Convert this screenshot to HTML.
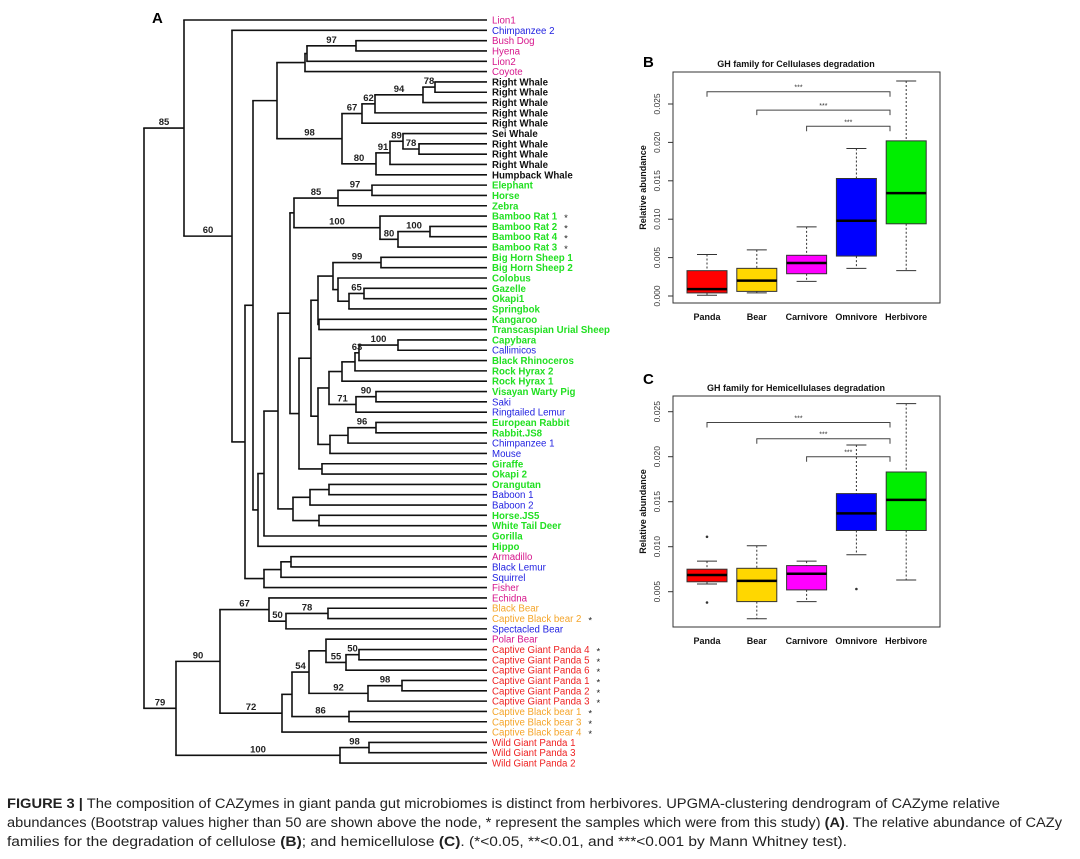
<!DOCTYPE html>
<html><head><meta charset="utf-8"><style>
html,body{margin:0;padding:0;background:#fff;}
svg{display:block;font-family:"Liberation Sans",Arial,sans-serif;}
</style></head><body>
<svg id="fig" width="1080" height="859" viewBox="0 0 1080 859">
<text x="152" y="23" font-size="15" font-weight="bold">A</text>
<text x="643" y="67" font-size="15" font-weight="bold">B</text>
<text x="643" y="384" font-size="15" font-weight="bold">C</text>
<g id="dendro"></g>
<g id="boxB"></g>
<g id="boxC"></g>
<g font-size="13.5" fill="#222">
<text x="7" y="808" textLength="993" lengthAdjust="spacingAndGlyphs"><tspan font-weight="bold">FIGURE 3 |</tspan> The composition of CAZymes in giant panda gut microbiomes is distinct from herbivores. UPGMA-clustering dendrogram of CAZyme relative</text>
<text x="7" y="827" textLength="1055" lengthAdjust="spacingAndGlyphs">abundances (Bootstrap values higher than 50 are shown above the node, * represent the samples which were from this study) <tspan font-weight="bold">(A)</tspan>. The relative abundance of CAZy</text>
<text x="7" y="846" textLength="840" lengthAdjust="spacingAndGlyphs">families for the degradation of cellulose <tspan font-weight="bold">(B)</tspan>; and hemicellulose <tspan font-weight="bold">(C)</tspan>. (*&lt;0.05, **&lt;0.01, and ***&lt;0.001 by Mann Whitney test).</text>
</g>
</svg>
<script>
// ---------- Dendrogram data ----------
const leafNames = ["Lion1","Chimpanzee 2","Bush Dog","Hyena","Lion2","Coyote","Right Whale","Right Whale","Right Whale","Right Whale","Right Whale","Sei Whale","Right Whale","Right Whale","Right Whale","Humpback Whale","Elephant","Horse","Zebra","Bamboo Rat 1","Bamboo Rat 2","Bamboo Rat 4","Bamboo Rat 3","Big Horn Sheep 1","Big Horn Sheep 2","Colobus","Gazelle","Okapi1","Springbok","Kangaroo","Transcaspian Urial Sheep","Capybara","Callimicos","Black Rhinoceros","Rock Hyrax 2","Rock Hyrax 1","Visayan Warty Pig","Saki","Ringtailed Lemur","European Rabbit","Rabbit.JS8","Chimpanzee 1","Mouse","Giraffe","Okapi 2","Orangutan","Baboon 1","Baboon 2","Horse.JS5","White Tail Deer","Gorilla","Hippo","Armadillo","Black Lemur","Squirrel","Fisher","Echidna","Black Bear","Captive Black bear 2","Spectacled Bear","Polar Bear","Captive Giant Panda 4","Captive Giant Panda 5","Captive Giant Panda 6","Captive Giant Panda 1","Captive Giant Panda 2","Captive Giant Panda 3","Captive Black bear 1","Captive Black bear 3","Captive Black bear 4","Wild Giant Panda 1","Wild Giant Panda 3","Wild Giant Panda 2"];
const leafGroups = "MBMMMMKKKKKKKKKKGGGGGGGGGGGGGGGGBGGGGBBGGBBGGGBBGGGGMBBMMOOBMRRRRRROOORRR";
const leafStars = [19,20,21,22,58,61,62,63,64,65,66,67,68,69];
function N(h, label, ...kids){ return {h:h, label:label, kids:kids}; }
const treeRoot = N(343,'',
  N(303,'85', 0,
    N(255,'60', 1,
      N(242,'',
        N(234,'',
          N(210,'',
            N(182,'', N(180,'', N(131,'97',2,3), 4), 5),
            N(145,'98',
              N(125,'67', N(112,'62', N(64,'94', N(52,'78',6,7), 8), 9), 10),
              N(111,'80', N(97,'91', N(84,'89', 11, N(68,'78',12,13)), 14), 15))),
          N(229,'',
            N(223,'',
              N(209,'',
                N(197,'',
                  N(193,'',
                    N(149,'85', N(115,'97',16,17), 18),
                    N(107,'100', 19, N(89,'80', N(57,'100',20,21), 22))),
                  N(188,'',
                    N(176,'',
                      N(169,'',
                        N(154,'', N(106,'99',23,24), N(149,'',25, N(138,'', N(123,'65',26,27), 28))),
                        N(168,'',29,30)),
                      N(169,'',
                        N(158,'',
                          N(145,'', N(132,'', N(128,'63', N(89,'100',31,32), 33), 34), 35),
                          N(131,'71', N(111,'90',36,37), 38)),
                        N(157,'', N(139,'', N(111,'96',39,40), 41), 42))),
                    N(165,'',43,44))),
                N(194,'', N(177,'', N(158,'',45,46), 47), N(168,'',48,49))),
              50),
            51)),
        N(223,'', N(206,'', N(196,'',52,53), 54), 55)))),
  N(311,'79',
    N(267,'90',
      N(218,'67', 56, N(201,'50', N(159,'78',57,58), 59)),
      N(205,'72',
        N(195,'',
          N(178,'54',
            N(161,'', 60, N(141,'55', N(128,'50',61,62), 63)),
            N(119,'92', N(85,'98',64,65), 66)),
          N(138,'86',67,68)),
        69)),
    N(147,'100', N(118,'98',70,71), 72)));

// ---------- Box plot data ----------
const categories = ["Panda","Bear","Carnivore","Omnivore","Herbivore"];
const boxColors = ["#ff0000","#ffd700","#ff00ff","#0000ff","#00ee00"];
const cellMax = [0.0054,0.0060,0.0090,0.0192,0.0280];
const cellQ3  = [0.0033,0.0036,0.0053,0.0153,0.0202];
const cellMed = [0.0009,0.0020,0.0043,0.0098,0.0134];
const cellQ1  = [0.0004,0.0006,0.0029,0.0052,0.0094];
const cellMin = [0.0001,0.0004,0.0019,0.0036,0.0033];
const cellOut = [[],[],[],[],[]];
const cellTicks = [0,0.005,0.010,0.015,0.020,0.025];
const cellTickLabels = ["0.000","0.005","0.010","0.015","0.020","0.025"];
const cellBrackets = [0.0266,0.0242,0.0221];
const hemiMax = [0.0084,0.0101,0.0084,0.0213,0.0259];
const hemiQ3  = [0.0075,0.0076,0.0079,0.0159,0.0183];
const hemiMed = [0.00685,0.0062,0.0070,0.0137,0.0152];
const hemiQ1  = [0.0061,0.0039,0.0052,0.0118,0.0118];
const hemiMin = [0.00585,0.0020,0.0039,0.0091,0.0063];
const hemiOut = [[0.0111,0.0038],[],[],[0.0053],[]];
const hemiTicks = [0.005,0.010,0.015,0.020,0.025];
const hemiTickLabels = ["0.005","0.010","0.015","0.020","0.025"];
const hemiBrackets = [0.0238,0.0220,0.0200];
const bracketFrom = [0,1,2];
const bracketLabels = ["***","***","***"];

const NS = "http://www.w3.org/2000/svg";
function mk(parent, tag, attrs){
  const e = document.createElementNS(NS, tag);
  for (const k in attrs) e.setAttribute(k, attrs[k]);
  parent.appendChild(e);
  return e;
}

// ---------- Draw dendrogram ----------
(function(){
  const g = document.getElementById('dendro');
  const leafX = 487, leafY0 = 20, leafStep = 10.32;
  const xScale = h => leafX - h;
  const yLeaf = i => leafY0 + i * leafStep;
  const colorMap = {M:"#d6168c", B:"#1f1fe0", K:"#111111", G:"#22e022", O:"#f5a52a", R:"#ee2222"};
  function layout(n){
    if (typeof n === 'number') return {x:leafX, y:yLeaf(n)};
    const pts = n.kids.map(layout);
    const x = xScale(n.h);
    const ys = pts.map(p => p.y);
    const y = (Math.min(...ys) + Math.max(...ys)) / 2;
    const v = mk(g, 'line', {x1:x, x2:x, y1:Math.min(...ys), y2:Math.max(...ys), stroke:'#111', 'stroke-width':1.6});
    
    
    pts.forEach(p => {
      const hl = mk(g, 'line', {x1:x-0.8, x2:p.x, y1:p.y, y2:p.y, stroke:'#111', 'stroke-width':1.6});
      
      
      if (p.label) {
        const t = mk(g, 'text', {x:(x + p.x)/2, y:p.y - 3, 'font-size':9.5, 'font-weight':'bold', 'text-anchor':'middle', fill:'#222'});
        t.textContent = p.label;
        
        
      }
    });
    return {x:x, y:y, label:n.label};
  }
  const r = layout(treeRoot);
  const rootStub = mk(g, 'line', {x1:r.x, x2:r.x, y1:r.y, y2:r.y, stroke:'#111'});
  
  
  leafNames.forEach((name, i) => {
    const grp = leafGroups[i];
    const bold = (grp === 'K' || grp === 'G');
    const t = mk(g, 'text', {x:492, y:yLeaf(i) + 3.5, 'font-size':9.7, fill:colorMap[grp], 'font-weight':bold ? 'bold' : 'normal'});
    t.textContent = name;
    
    
    if (leafStars.includes(i)) {
      let w = name.length * 5;
      try { w = t.getComputedTextLength(); } catch (e) {}
      const s = mk(g, 'text', {x:492 + w + 7, y:yLeaf(i) + 5, 'font-size':9.5, fill:'#222'});
      s.textContent = '*';
      
      
    }
  });
})();

// ---------- Draw box plots ----------
function drawBox(id, cfg){
  const g = document.getElementById(id);
  const L = 673, R = 940, T = cfg.top, B = cfg.bottom;
  const yS = v => cfg.y0 - (v - cfg.v0) / 0.005 * cfg.step;
  const xS = i => 707 + i * 49.8;
  const frame = mk(g, 'rect', {x:L, y:T, width:R-L, height:B-T, fill:'none', stroke:'#333', 'stroke-width':1});
  
  
  const title = mk(g, 'text', {x:796, y:T - 5, 'font-size':9, 'font-weight':'bold', 'text-anchor':'middle', fill:'#111'});
  title.textContent = cfg.title;
  
  
  const yt = mk(g, 'text', {x:0, y:0, 'font-size':9, 'font-weight':'bold', 'text-anchor':'middle', fill:'#111', transform:`translate(646,${(T+B)/2}) rotate(-90)`});
  yt.textContent = 'Relative abundance';
  
  
  cfg.ticks.forEach((v, i) => {
    const y = yS(v);
    const tk = mk(g, 'line', {x1:L-5, x2:L, y1:y, y2:y, stroke:'#333'});
    
    
    const tl = mk(g, 'text', {x:0, y:0, 'font-size':8.5, 'text-anchor':'middle', fill:'#333', transform:`translate(660,${y}) rotate(-90)`});
    tl.textContent = cfg.tickLabels[i];
    
    
  });
  const bw = 40, cw = 20;
  categories.forEach((c, i) => {
    const x = xS(i);
    const w1 = mk(g, 'line', {x1:x, x2:x, y1:yS(cfg.max[i]), y2:yS(cfg.q3[i]), stroke:'#333', 'stroke-dasharray':'2,2'});
    
    
    const w2 = mk(g, 'line', {x1:x, x2:x, y1:yS(cfg.q1[i]), y2:yS(cfg.min[i]), stroke:'#333', 'stroke-dasharray':'2,2'});
    
    
    const c1 = mk(g, 'line', {x1:x-cw/2, x2:x+cw/2, y1:yS(cfg.max[i]), y2:yS(cfg.max[i]), stroke:'#333'});
    
    
    const c2 = mk(g, 'line', {x1:x-cw/2, x2:x+cw/2, y1:yS(cfg.min[i]), y2:yS(cfg.min[i]), stroke:'#333'});
    
    
    const bx = mk(g, 'rect', {x:x-bw/2, y:yS(cfg.q3[i]), width:bw, height:yS(cfg.q1[i]) - yS(cfg.q3[i]), fill:boxColors[i], stroke:'#333', 'stroke-width':1});
    
    
    const md = mk(g, 'line', {x1:x-bw/2, x2:x+bw/2, y1:yS(cfg.med[i]), y2:yS(cfg.med[i]), stroke:'#000', 'stroke-width':2.5});
    
    
    cfg.out[i].forEach(v => {
      const o = mk(g, 'circle', {cx:x, cy:yS(v), r:1.3, fill:'#333'});
      
      
    });
    const xl = mk(g, 'text', {x:x, y:cfg.labelY, 'font-size':9, 'font-weight':'bold', 'text-anchor':'middle', fill:'#111'});
    xl.textContent = c;
    
    
  });
  cfg.brackets.forEach((v, k) => {
    const y = yS(v), x1 = xS(bracketFrom[k]), x2 = 890;
    const br = mk(g, 'polyline', {points:`${x1},${y+5} ${x1},${y} ${x2},${y} ${x2},${y+5}`, fill:'none', stroke:'#444', 'stroke-width':1});
    
    
    const st = mk(g, 'text', {x:(x1+x2)/2, y:y-2, 'font-size':7, 'text-anchor':'middle', fill:'#333'});
    st.textContent = bracketLabels[k];
    
    
  });
}
drawBox('boxB', {top:72, bottom:303, y0:296, v0:0, step:38.4, title:'GH family for Cellulases degradation',
  ticks:cellTicks, tickLabels:cellTickLabels, max:cellMax, q3:cellQ3, med:cellMed, q1:cellQ1, min:cellMin, out:cellOut,
  brackets:cellBrackets, labelY:320});
drawBox('boxC', {top:396, bottom:627, y0:591.7, v0:0.005, step:45, title:'GH family for Hemicellulases degradation',
  ticks:hemiTicks, tickLabels:hemiTickLabels, max:hemiMax, q3:hemiQ3, med:hemiMed, q1:hemiQ1, min:hemiMin, out:hemiOut,
  brackets:hemiBrackets, labelY:644});
</script>
</body></html>
